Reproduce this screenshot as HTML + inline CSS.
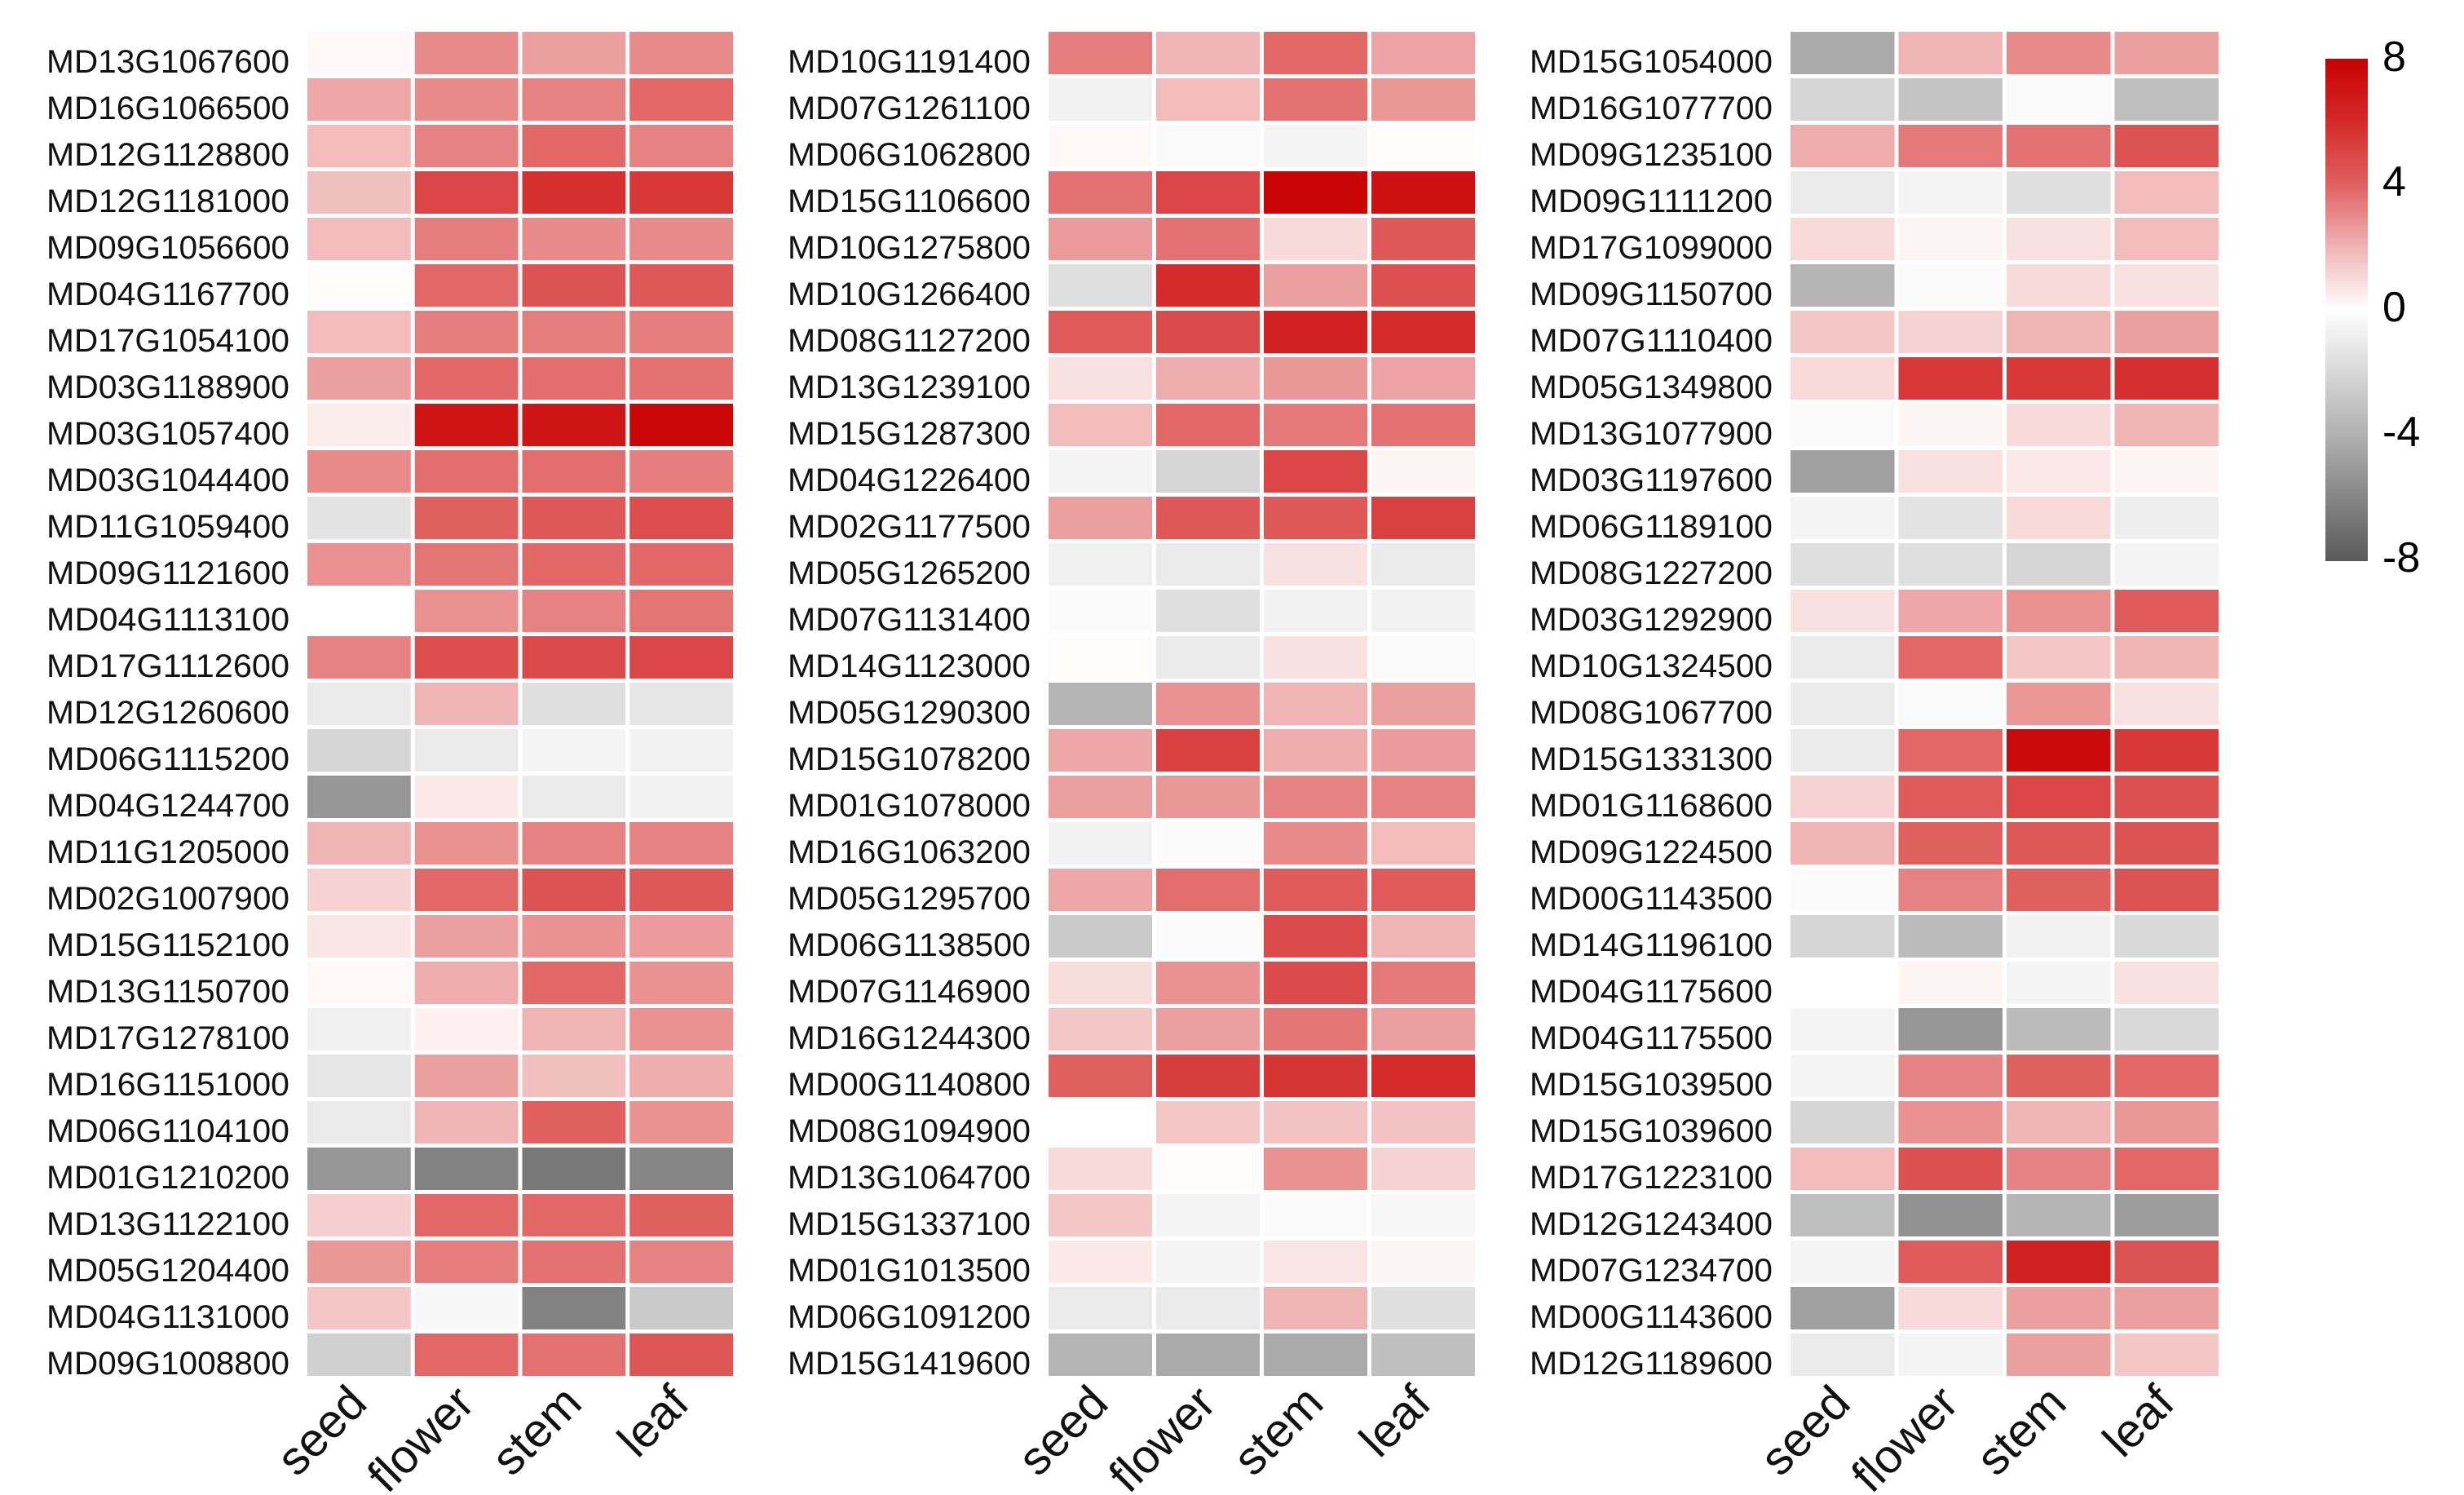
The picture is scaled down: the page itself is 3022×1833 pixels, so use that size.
<!DOCTYPE html>
<html><head><meta charset="utf-8">
<style>html,body{margin:0;padding:0;background:#fff;}svg{display:block;}</style>
</head><body>
<svg id="chart" width="3022" height="1833" xmlns="http://www.w3.org/2000/svg" font-family="Liberation Sans, Arial, sans-serif">
<defs>
<linearGradient id="cbgrad" x1="0" y1="0" x2="0" y2="1">
<stop offset="0" stop-color="#c80000"/>
<stop offset="0.125" stop-color="#d42a2a"/>
<stop offset="0.25" stop-color="#e06060"/>
<stop offset="0.375" stop-color="#f0b4b4"/>
<stop offset="0.5" stop-color="#ffffff"/>
<stop offset="0.75" stop-color="#b0b0b0"/>
<stop offset="1" stop-color="#5a5a5a"/>
</linearGradient>
</defs>
<g id="panels"></g>
<g>
<rect x="2852" y="72" width="52" height="616" fill="url(#cbgrad)"/>
<text x="2922" y="70" font-size="52" dominant-baseline="central">8</text>
<text x="2922" y="223" font-size="52" dominant-baseline="central">4</text>
<text x="2922" y="377" font-size="52" dominant-baseline="central">0</text>
<text x="2922" y="530" font-size="52" dominant-baseline="central">-4</text>
<text x="2922" y="684" font-size="52" dominant-baseline="central">-8</text>
</g>
</svg>
<script>
const tissues = ["seed","flower","stem","leaf"];
const genes1 = ["MD13G1067600","MD16G1066500","MD12G1128800","MD12G1181000","MD09G1056600","MD04G1167700","MD17G1054100","MD03G1188900","MD03G1057400","MD03G1044400","MD11G1059400","MD09G1121600","MD04G1113100","MD17G1112600","MD12G1260600","MD06G1115200","MD04G1244700","MD11G1205000","MD02G1007900","MD15G1152100","MD13G1150700","MD17G1278100","MD16G1151000","MD06G1104100","MD01G1210200","MD13G1122100","MD05G1204400","MD04G1131000","MD09G1008800"];
const values1 = [[0.2,3,2.5,3],[2.3,3,3.2,3.8],[1.8,3.2,3.8,3.2],[1.7,5,5.8,5.5],[1.8,3.3,3,3],[0.1,3.8,4.5,4.3],[1.8,3.3,3.3,3.3],[2.5,3.8,3.7,3.6],[0.5,7,7,7.7],[3,3.7,3.7,3.3],[-1.3,4,4.3,4.7],[2.8,3.5,3.8,3.8],[0,2.8,3.2,3.5],[3.2,4.7,4.8,5],[-1,2,-1.5,-1.2],[-2,-1,-0.5,-0.6],[-5,0.6,-1,-0.6],[2,2.8,3.2,3.2],[1.2,3.8,4.5,4.3],[0.7,2.5,2.8,2.6],[0.2,2.2,3.8,2.8],[-0.7,0.4,2,2.8],[-1.2,2.5,1.7,2.2],[-1,2,4,2.8],[-5,-6,-6.5,-5.8],[1.3,3.8,3.8,4],[2.7,3.3,3.6,3.2],[1.5,-0.4,-6,-2.5],[-2.2,3.8,3.6,4.4]];
const genes2 = ["MD10G1191400","MD07G1261100","MD06G1062800","MD15G1106600","MD10G1275800","MD10G1266400","MD08G1127200","MD13G1239100","MD15G1287300","MD04G1226400","MD02G1177500","MD05G1265200","MD07G1131400","MD14G1123000","MD05G1290300","MD15G1078200","MD01G1078000","MD16G1063200","MD05G1295700","MD06G1138500","MD07G1146900","MD16G1244300","MD00G1140800","MD08G1094900","MD13G1064700","MD15G1337100","MD01G1013500","MD06G1091200","MD15G1419600"];
const values2 = [[3.3,2,3.8,2.4],[-0.6,1.8,3.6,2.7],[0.2,-0.3,-0.5,0.1],[3.6,5,7.8,7.2],[2.6,3.6,1,4.3],[-1.5,6,2.5,4.6],[4.2,4.8,6.5,6],[0.8,2.2,2.7,2.4],[1.8,3.8,3.4,3.6],[-0.5,-2,5,0.3],[2.5,4.3,4.3,5.2],[-0.7,-1,0.8,-1],[-0.2,-1.5,-0.6,-0.6],[0.1,-1,0.8,-0.3],[-3.5,2.8,2,2.5],[2.3,5.2,2.2,2.6],[2.5,2.7,3.2,3.2],[-0.6,-0.2,3,1.8],[2.3,3.7,4.2,4.2],[-2.5,-0.2,4.8,2],[0.9,2.8,4.8,3.4],[1.5,2.5,3.5,2.5],[4,5.3,5.6,6],[0,1.5,1.6,1.6],[1,0.1,2.8,1.2],[1.5,-0.5,-0.2,-0.4],[0.6,-0.5,0.7,0.3],[-1,-1,2,-1.5],[-3.5,-4,-4,-3]];
const genes3 = ["MD15G1054000","MD16G1077700","MD09G1235100","MD09G1111200","MD17G1099000","MD09G1150700","MD07G1110400","MD05G1349800","MD13G1077900","MD03G1197600","MD06G1189100","MD08G1227200","MD03G1292900","MD10G1324500","MD08G1067700","MD15G1331300","MD01G1168600","MD09G1224500","MD00G1143500","MD14G1196100","MD04G1175600","MD04G1175500","MD15G1039500","MD15G1039600","MD17G1223100","MD12G1243400","MD07G1234700","MD00G1143600","MD12G1189600"];
const values3 = [[-4,2,3,2.5],[-2,-2.8,-0.3,-3],[2.2,3.4,3.6,4.5],[-1,-0.5,-1.5,1.8],[1,0.3,0.8,1.8],[-3.5,-0.3,1,0.8],[1.5,1.2,2,2.5],[1,5.5,5.5,5.8],[-0.3,0.3,1,2],[-4.5,0.8,0.6,0.3],[-0.5,-1.3,1,-0.8],[-1.5,-1.5,-2,-0.5],[0.8,2.3,2.8,4.2],[-1,3.8,1.5,2],[-1,-0.3,2.7,0.8],[-1,3.8,7.5,5.5],[1.2,4.2,5,4.6],[2,4,4.3,4.5],[-0.2,3.2,4,4.5],[-2,-3.2,-0.6,-1.8],[0,0.3,-0.5,0.8],[-0.5,-5,-3.2,-1.8],[-0.5,3.2,4,3.8],[-2,2.8,2,2.7],[1.8,4.6,3.2,3.8],[-3,-5.2,-3.5,-4.7],[-0.5,4.2,6.5,4.5],[-4.5,1,2.5,2.5],[-1,-0.5,2.5,1.5]];

const NS = "http://www.w3.org/2000/svg";
const stops = [[-8,[90,90,90]],[-4,[170,170,170]],[0,[255,255,255]],[2,[240,180,180]],[4,[224,96,96]],[6,[212,42,42]],[8,[200,0,0]]];
function colorOf(v){
  v = Math.max(-8, Math.min(8, v));
  for (let i=0;i<stops.length-1;i++){
    const [a,ca]=stops[i],[b,cb]=stops[i+1];
    if (v>=a && v<=b){ const t=(v-a)/(b-a);
      return "rgb("+ca.map((c,k)=>Math.round(c+(cb[k]-c)*t)).join(",")+")"; }
  }
  return "#fff";
}
const rowTop = 39, rowPitch = 57, rowH = 52;
function yOf(i){ return rowTop + i*rowPitch; }
const panelsG = document.getElementById("panels");
function drawPanel(idx, genes, values, left, right){
  const g = document.createElementNS(NS,"g");
  
  
  panelsG.appendChild(g);
  const gap = 5;
  const cw = (right - left + gap)/tissues.length;
  function xOf(j){ return left + j*cw; }
  genes.forEach((gene,i)=>{
    const t = document.createElementNS(NS,"text");
    
    
    t.setAttribute("x", left - 22);
    t.setAttribute("y", yOf(i) + 50);
    t.setAttribute("font-size", "40");
    t.setAttribute("text-anchor", "end");
    t.setAttribute("textLength", "298");
    t.setAttribute("lengthAdjust", "spacingAndGlyphs");
    t.setAttribute("fill", "#111");
    t.textContent = gene;
    g.appendChild(t);
    values[i].forEach((v,j)=>{
      const r = document.createElementNS(NS,"rect");
      
      
      r.setAttribute("x", xOf(j));
      r.setAttribute("y", yOf(i));
      r.setAttribute("width", cw - gap);
      r.setAttribute("height", rowH);
      r.setAttribute("fill", colorOf(v));
      g.appendChild(r);
    });
  });
  tissues.forEach((ts,j)=>{
    const cx = xOf(j) + (cw-gap)/2 - 17;
    const cy = yOf(genes.length) + 2;
    const t = document.createElementNS(NS,"text");
    
    
    t.setAttribute("x", cx);
    t.setAttribute("y", cy);
    t.setAttribute("font-size", "58");
    t.setAttribute("text-anchor", "end");
    t.setAttribute("dominant-baseline", "hanging");
    t.setAttribute("fill", "#111");
    t.setAttribute("transform", "rotate(-45 " + cx + " " + cy + ")");
    t.textContent = ts;
    g.appendChild(t);
  });
}
drawPanel(1, genes1, values1, 377, 899);
drawPanel(2, genes2, values2, 1286, 1809);
drawPanel(3, genes3, values3, 2196, 2721);
</script>
</body></html>
